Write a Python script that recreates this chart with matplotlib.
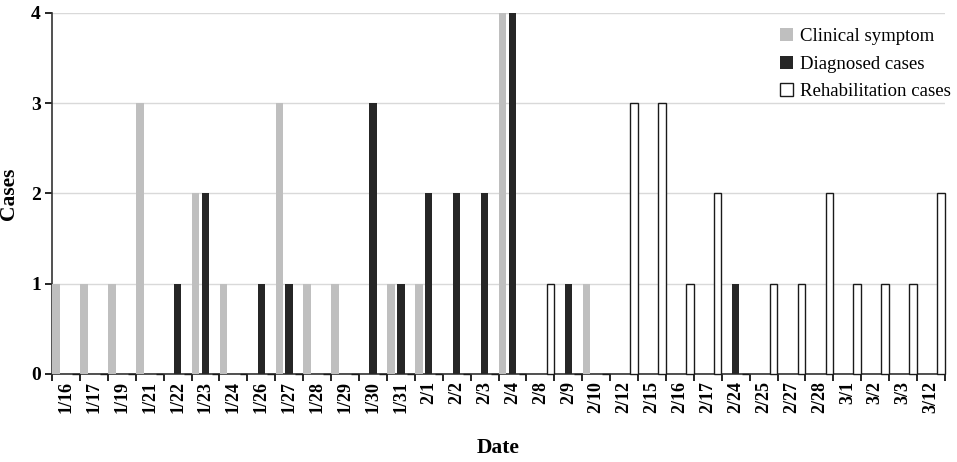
import matplotlib
matplotlib.use("Agg")
import matplotlib.pyplot as plt
import numpy as np

dates = ["1/16", "1/17", "1/19", "1/21", "1/22", "1/23", "1/24", "1/26", "1/27", "1/28",
         "1/29", "1/30", "1/31", "2/1", "2/2", "2/3", "2/4", "2/8", "2/9", "2/10",
         "2/12", "2/15", "2/16", "2/17", "2/24", "2/25", "2/27", "2/28", "3/1", "3/2",
         "3/3", "3/12"]
clinical = [1, 1, 1, 3, 0, 2, 1, 0, 3, 1, 1, 0, 1, 1, 0, 0, 4, 0, 0, 1,
            0, 0, 0, 0, 0, 0, 0, 0, 0, 0, 0, 0]
diagnosed = [0, 0, 0, 0, 1, 2, 0, 1, 1, 0, 0, 3, 1, 2, 2, 2, 4, 0, 1, 0,
             0, 0, 0, 0, 1, 0, 0, 0, 0, 0, 0, 0]
rehab = [0, 0, 0, 0, 0, 0, 0, 0, 0, 0, 0, 0, 0, 0, 0, 0, 0, 1, 0, 0,
         3, 3, 1, 2, 0, 1, 1, 2, 1, 1, 1, 2]
series_names = ["Clinical symptom", "Diagnosed cases", "Rehabilitation cases"]

plt.rcParams['font.family'] = ['Liberation Serif', 'DejaVu Serif']

fig = plt.figure(figsize=(9.57, 4.62), dpi=100)
ax = fig.add_axes([0.0543, 0.1905, 0.9332, 0.7814])

x = np.arange(len(dates))
w = 0.27
off = 0.355
ax.bar(x - off, clinical, w, color="#bfbfbf", label=series_names[0], zorder=3, clip_on=False)
ax.bar(x, diagnosed, w, color="#262626", label=series_names[1], zorder=3, clip_on=False)
ax.bar(x + off, rehab, w, color="white", edgecolor="#1a1a1a", linewidth=1.0,
       label=series_names[2], zorder=3, clip_on=False)

ax.set_xlim(-0.5, len(dates) - 0.5)
ax.set_ylim(0, 4)
ax.set_yticks([0, 1, 2, 3, 4])
ax.yaxis.grid(True, color="#d9d9d9", linewidth=1.0, zorder=0)
ax.set_axisbelow(True)

ax.set_xticks(x)
ax.set_xticklabels(dates, rotation=90, fontweight='bold', fontsize=13)
ax.tick_params(axis='x', which='major', length=0, pad=5)
ax.set_xticks(np.arange(len(dates) + 1) - 0.5, minor=True)
ax.tick_params(axis='x', which='minor', length=5, width=1.2, direction='out')
ax.tick_params(axis='y', length=5, width=1.2, direction='out', labelsize=14, pad=3)
for lab in ax.get_yticklabels():
    lab.set_fontweight('bold')

for s in ['top', 'right']:
    ax.spines[s].set_visible(False)
for s in ['left', 'bottom']:
    ax.spines[s].set_linewidth(1.2)
    ax.spines[s].set_color('#333333')

ax.set_ylabel("Cases", fontsize=15.5, fontweight='bold')
ax.yaxis.set_label_coords(-0.037, 0.5)
ax.set_xlabel("Date", fontsize=15.5, fontweight='bold', labelpad=18)

leg = ax.legend(loc='upper left', bbox_to_anchor=(0.815, 0.958), frameon=False,
                borderaxespad=0, borderpad=0,
                fontsize=13.5, handlelength=0.7, handleheight=0.7,
                handletextpad=0.35, labelspacing=0.55)

fig.savefig("out.png", dpi=100)
